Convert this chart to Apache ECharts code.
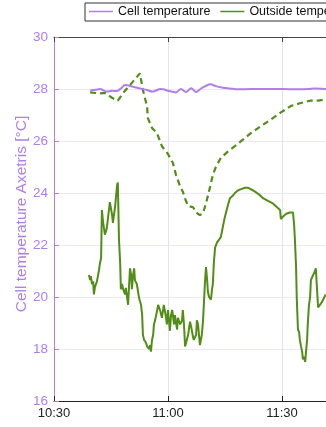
<!DOCTYPE html>
<html><head><meta charset="utf-8">
<script src="https://cdn.jsdelivr.net/npm/echarts@6/dist/echarts.min.js"></script>
<style>html,body{margin:0;padding:0;overflow:hidden;background:#fff}#c{width:420px;height:427px}</style>
</head><body><div id="c"></div>
<script>
// x values: minutes after 10:30
var xTickLabels = ["10:30","11:00","11:30","12:00"];
var seriesNames = ["Cell temperature","Outside temperature","Outside temperature (dashed)"];
var cellTemp = [[9.5,27.94],[11,27.97],[12.1,28.0],[13.9,27.9],[15.3,27.93],[16.6,27.92],[17.6,28.02],[18.7,28.15],[20.8,28.09],[22.7,28.02],[24.5,27.96],[25.8,27.9],[27,27.95],[27.9,28.0],[28.7,27.99],[30.3,27.92],[32.1,27.87],[33.4,28.0],[34.7,27.88],[36.1,28.03],[37.4,27.88],[38.7,28.02],[40,28.12],[41.1,28.18],[42.8,28.1],[44.5,28.05],[47.9,27.99],[52,28.0],[56,28.0],[60,28.0],[64,27.99],[67,28.0],[68.5,28.02],[70.5,28.01],[72,27.99],[75,27.99]];
var outsideDashed = [[9.5,27.87],[12.1,27.83],[13.4,27.85],[15.5,27.64],[16.8,27.55],[18.2,27.85],[20.0,28.15],[22.6,28.6],[23.4,27.96],[24.5,27.32],[24.7,26.88],[25.8,26.5],[27.1,26.3],[28.4,25.8],[30.0,25.5],[31.3,25.15],[32.1,24.7],[33.2,24.25],[33.9,24.05],[34.7,23.7],[35.3,23.5],[36.6,23.45],[37.4,23.25],[38.4,23.15],[39.2,23.22],[39.7,23.15],[40.0,23.6],[41.1,24.25],[41.8,24.7],[42.6,25.0],[43.9,25.35],[45.8,25.6],[47.6,25.8],[49.7,26.05],[51.8,26.3],[54.2,26.55],[56.8,26.8],[59.7,27.1],[62.4,27.35],[64.7,27.45],[67.4,27.55],[69.5,27.55],[71.6,27.6],[74,27.62]];
var outsideSolid = [[9.2,20.85],[9.5,20.65],[9.7,20.8],[10.0,20.5],[10.3,20.6],[10.5,20.1],[10.8,20.4],[11.3,20.6],[11.8,21.0],[12.1,21.3],[12.4,21.5],[12.6,23.35],[12.9,22.9],[13.4,22.4],[13.9,22.65],[14.7,23.65],[15.3,23.15],[15.5,22.85],[16.1,23.5],[16.6,24.3],[16.8,24.4],[17.1,22.2],[17.4,21.35],[17.6,20.3],[17.9,20.5],[18.2,20.3],[18.7,20.1],[18.9,20.35],[19.5,19.7],[19.7,20.3],[20.0,21.1],[20.3,20.85],[20.5,20.3],[20.8,20.85],[21.1,21.1],[21.3,20.65],[21.8,20.5],[22.4,19.95],[22.6,19.9],[22.9,19.7],[23.2,19.3],[23.4,18.55],[23.7,18.35],[24.2,18.25],[24.5,18.1],[24.7,18.15],[25.0,18.0],[25.3,18.15],[25.5,17.9],[25.8,18.35],[26.1,18.55],[26.3,18.95],[26.6,19.1],[26.8,19.05],[27.1,19.45],[27.4,19.7],[27.9,19.5],[28.4,19.2],[28.9,19.7],[29.5,19.2],[29.7,18.95],[30.0,19.5],[30.5,18.7],[30.8,19.3],[31.1,19.5],[31.6,18.95],[31.8,19.3],[32.4,18.75],[32.6,19.2],[33.2,18.95],[33.7,19.1],[33.9,19.5],[34.2,18.95],[34.5,18.1],[34.7,18.2],[35.3,18.55],[35.8,19.05],[36.1,18.85],[36.6,18.45],[36.8,18.35],[37.4,18.55],[37.6,19.1],[37.9,18.95],[38.4,18.15],[38.7,18.1],[38.9,18.55],[39.2,19.05],[39.5,19.9],[39.7,20.5],[40.0,21.15],[40.3,20.65],[40.5,20.2],[40.8,20.0],[41.1,19.95],[41.3,19.9],[41.6,20.3],[41.8,20.5],[42.1,21.4],[42.4,21.9],[42.9,22.1],[43.4,22.2],[43.9,22.3],[44.5,22.75],[45.0,23.1],[45.8,23.55],[46.3,23.8],[47.1,23.9],[47.6,24.0],[48.4,24.1],[49.2,24.15],[50.3,24.2],[51.1,24.2],[51.8,24.15],[52.9,24.05],[53.9,23.95],[55.0,23.8],[56.3,23.7],[57.6,23.6],[58.7,23.45],[59.5,23.35],[59.7,23.0],[60.3,23.1],[61.1,23.2],[62.1,23.25],[62.9,23.25],[63.2,22.75],[63.4,22.2],[63.7,21.15],[63.9,19.9],[64.2,18.75],[64.5,18.65],[64.7,18.35],[65.0,18.1],[65.3,17.9],[65.5,17.6],[65.8,17.7],[66.1,17.5],[66.3,17.85],[66.6,18.35],[66.8,19.0],[67.1,19.7],[67.4,20.0],[67.6,20.65],[67.9,20.75],[68.2,20.85],[68.7,21.0],[68.9,21.1],[69.2,20.35],[69.5,19.6],[70.5,19.8],[71.5,20.1]];

var purple = '#b07ee8', green = '#528d18';
var font = 'Liberation Sans, Arial, Helvetica, sans-serif';
var chart = echarts.init(document.getElementById('c'), null, {renderer:'canvas'});
function fmt(v){ var i = Math.round(v/30); return xTickLabels[i] || ''; }
chart.setOption({
  animation:false,
  textStyle:{fontFamily:font},
  grid:{left:54,right:24,top:37,bottom:26,containLabel:false},
  legend:{
    left:85, top:3, data:[seriesNames[0],seriesNames[1]],
    icon:'rect', itemWidth:24, itemHeight:1.5, itemGap:10,
    padding:[2,4,3,4], borderColor:'#333', borderWidth:1, backgroundColor:'#fff',
    textStyle:{color:'#111',fontSize:12.5,fontFamily:font}
  },
  xAxis:[{
    type:'value', min:0, max:90, interval:30,
    axisLine:{show:true,lineStyle:{color:'#222',width:1}},
    axisTick:{show:true,inside:true,length:5,lineStyle:{color:'#222'}},
    axisLabel:{formatter:fmt,color:'#222',fontSize:13,margin:6,fontFamily:font},
    splitLine:{show:true,lineStyle:{color:'#e4e4e8',width:1}}
  },{
    type:'value', min:0, max:90, interval:30, position:'top',
    axisLine:{show:true,onZero:false,lineStyle:{color:'#444',width:1}},
    axisTick:{show:true,inside:true,length:5,lineStyle:{color:'#444'}},
    axisLabel:{show:false}, splitLine:{show:false}
  }],
  yAxis:{
    type:'value', min:16, max:30, interval:2,
    name:'Cell temperature Axetris [°C]', nameLocation:'middle', nameGap:24, nameMoveOverlap:false,
    nameTextStyle:{color:purple,fontSize:15.5,fontFamily:font,padding:[0,0,0,10]},
    axisLine:{show:true,lineStyle:{color:purple,width:1}},
    axisTick:{show:true,inside:true,length:5,lineStyle:{color:purple}},
    axisLabel:{color:purple,fontSize:13.5,margin:6,fontFamily:font},
    splitLine:{show:true,lineStyle:{color:'#ece8f7',width:1}}
  },
  series:[
    {name:seriesNames[0],type:'line',data:cellTemp,showSymbol:false,symbol:'none',smooth:0.3,
     lineStyle:{color:purple,width:2},itemStyle:{color:purple},z:3},
    {name:seriesNames[1],type:'line',data:outsideSolid,showSymbol:false,symbol:'none',
     lineStyle:{color:green,width:2},itemStyle:{color:green},z:2},
    {name:seriesNames[2],type:'line',data:outsideDashed,showSymbol:false,symbol:'none',
     lineStyle:{color:green,width:2.2,type:[6,4]},itemStyle:{color:green},z:2}
  ]
});
</script></body></html>
